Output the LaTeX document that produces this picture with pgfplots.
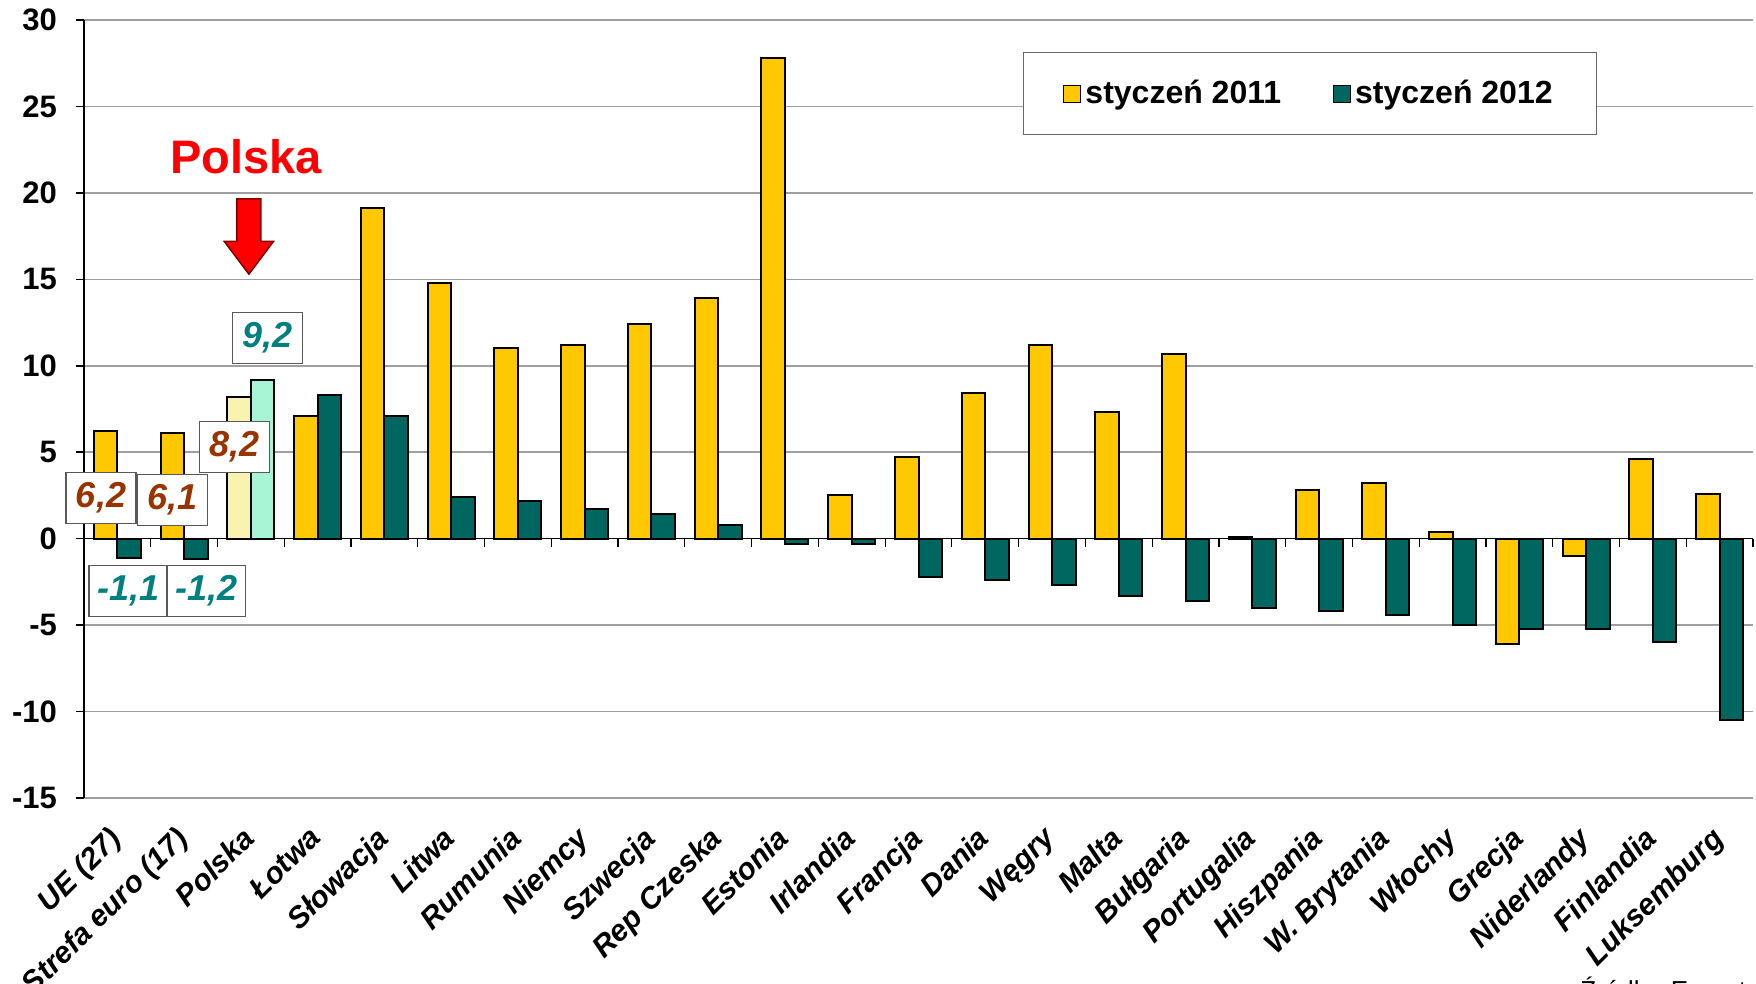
\documentclass[border=0pt]{standalone}
\usepackage{pgfplots}
\pgfplotsset{compat=1.18}
\usepackage{pgfplotstable}
\usepackage{fontspec}
\setmainfont{Liberation Sans}
\definecolor{gold}{HTML}{FFC800}
\definecolor{teal2}{HTML}{006660}
\definecolor{pyel}{HTML}{F8F4B0}
\definecolor{pmint}{HTML}{A8F5D6}
\definecolor{lblbrown}{HTML}{993300}
\definecolor{lblteal}{HTML}{008080}

\pgfplotstableread{
x a b
0 6.2 -1.1
1 6.1 -1.2
3 7.1 8.3
4 19.1 7.1
5 14.8 2.4
6 11.0 2.2
7 11.2 1.7
8 12.4 1.4
9 13.9 0.8
10 27.8 -0.3
11 2.5 -0.3
12 4.7 -2.2
13 8.4 -2.4
14 11.2 -2.7
15 7.3 -3.3
16 10.7 -3.6
17 0.1 -4.0
18 2.8 -4.2
19 3.2 -4.4
20 0.4 -5.0
21 -6.1 -5.2
22 -1.0 -5.2
23 4.6 -6.0
24 2.6 -10.5
}\data

\begin{document}
\begin{tikzpicture}
\begin{axis}[
  scale only axis, width=834.5pt, height=389pt,
  xmin=-0.5, xmax=24.5, ymin=-15, ymax=30,
  clip=false,
  ytick={-15,-10,...,30},
  xtick={0,...,24},
  xticklabels={UE (27),Strefa euro (17),Polska,Łotwa,Słowacja,Litwa,Rumunia,Niemcy,Szwecja,Rep Czeska,Estonia,Irlandia,Francja,Dania,Węgry,Malta,Bułgaria,Portugalia,Hiszpania,W. Brytania,Włochy,Grecja,Niderlandy,Finlandia,Luksemburg},
  axis y line*=left, axis x line*=bottom,
  x axis line style={draw=none},
  xtick style={draw=none},
  ytick style={black, line width=0.75pt},
  y axis line style={black, line width=0.75pt},
  tick align=outside, major tick length=4pt,
  ymajorgrids, grid style={draw=gray!75, line width=0.75pt},
  /pgf/number format/assume math mode=true,
  yticklabel style={font=\fontsize{15.5}{16}\selectfont\bfseries, xshift=-6pt},
  xticklabel style={font=\fontsize{15}{15}\selectfont\bfseries\itshape, rotate=45, anchor=north east, inner sep=1pt, yshift=-2pt, xshift=-9pt},
  ybar, bar width=11.75pt,
  legend style={at={(0.7346,0.9055)}, anchor=center, draw=gray!80!black, line width=0.75pt,
    inner xsep=20pt, inner ysep=12pt, font=\fontsize{16}{16}\selectfont\bfseries,
    /tikz/every even column/.append style={column sep=24pt}},
  legend columns=2,
  legend image code/.code={\draw[#1, draw=black, line width=0.5pt] (0pt,-4.25pt) rectangle (8.5pt,4.25pt);},
]
\addplot[draw=black, line width=1pt, fill=gold, bar shift=-5.875pt] table[x=x, y=a] {\data};
\addlegendentry{styczeń 2011}
\addplot[draw=black, line width=1pt, fill=teal2, bar shift=5.875pt] table[x=x, y=b] {\data};
\addlegendentry{styczeń 2012}
\addplot[forget plot, draw=black, line width=1pt, fill=pyel, bar shift=-5.875pt] coordinates {(2,8.2)};
\addplot[forget plot, draw=black, line width=1pt, fill=pmint, bar shift=5.875pt] coordinates {(2,9.2)};

\draw[black, line width=0.75pt] (axis cs:-0.5,0) -- (axis cs:24.5,0);
\pgfplotsinvokeforeach{0,...,24}{\draw[black, line width=0.6pt] (axis cs:#1+0.5,0) -- ([yshift=-4pt]axis cs:#1+0.5,0);}

\node[text=red, font=\fontsize{23.5}{24}\selectfont\bfseries] at (axis cs:1.93,22.1) {Polska};
\draw[fill=red, draw=red!50!black, line width=0.75pt] (axis cs:1.79,19.65) -- (axis cs:2.15,19.65) -- (axis cs:2.15,17.2) -- (axis cs:2.34,17.2) -- (axis cs:1.97,15.3) -- (axis cs:1.60,17.2) -- (axis cs:1.79,17.2) -- cycle;

\tikzset{lbl/.style={fill=white, draw=gray!70!black, line width=0.6pt, font=\fontsize{18}{18}\selectfont\bfseries\itshape, minimum width=35pt, minimum height=25.5pt, inner xsep=4pt, inner ysep=2pt}}
\node[lbl, text=lblbrown] at (axis cs:-0.245,2.35) {6,2};
\node[lbl, text=lblbrown] at (axis cs:0.825,2.24) {6,1};
\node[lbl, text=lblbrown] at (axis cs:1.76,5.3) {8,2};
\node[lbl, text=lblteal] at (axis cs:2.25,11.6) {9,2};
\node[lbl, text=lblteal] at (axis cs:0.16,-3.02) {-1,1};
\node[lbl, text=lblteal] at (axis cs:1.33,-3.02) {-1,2};
\end{axis}
\node[anchor=north west, font=\fontsize{13}{13}\selectfont, inner sep=0pt] at (748pt,-89.5pt) {Źródło: Eurostat};
\pgfresetboundingbox
\path[use as bounding box] (-42pt,-93pt) rectangle (836pt,399pt);
\end{tikzpicture}
\end{document}
